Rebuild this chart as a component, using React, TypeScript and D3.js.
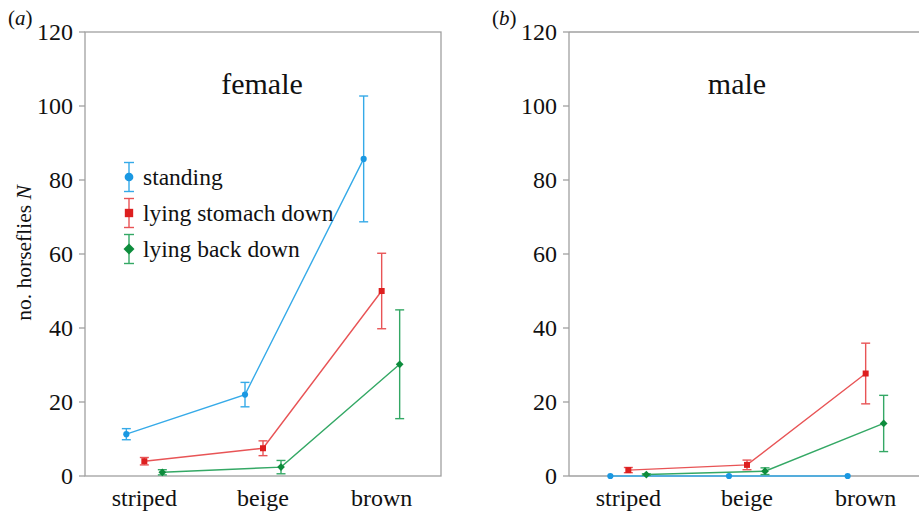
import React from 'react';
import * as d3 from 'd3';

// categories and tick labels
const categories = ['striped', 'beige', 'brown'];
const yTicks = [0, 20, 40, 60, 80, 100, 120];
const seriesNames = ['standing', 'lying stomach down', 'lying back down'];

// female (a): means and error half-widths
const femaleStanding = [11.3, 22, 85.7];
const femaleStandingErr = [1.5, 3.3, 17];
const femaleStomach = [4, 7.5, 50];
const femaleStomachErr = [1, 2, 10.2];
const femaleBack = [1, 2.4, 30.2];
const femaleBackErr = [0.7, 1.8, 14.7];

// male (b)
const maleStanding = [0, 0, 0];
const maleStandingErr = [0, 0, 0];
const maleStomach = [1.6, 3, 27.7];
const maleStomachErr = [0.7, 1.3, 8.2];
const maleBack = [0.4, 1.3, 14.2];
const maleBackErr = [0.2, 0.9, 7.6];

const colors = [
  { marker: '#1a98e2', line: '#35aae8' },
  { marker: '#dd1f1f', line: '#e85456' },
  { marker: '#0d8c3c', line: '#34a865' },
];
const offsets = [-18, 0, 18];
// diamond = square turned 45 degrees
const symbols = [d3.symbolCircle, d3.symbolSquare, d3.symbolSquare];
const rotations = [0, 0, 45];
const symbolSizes = [30, 36, 30];
const legendSizes = [60, 70, 60];

const FONT = '"Liberation Serif", "Times New Roman", Times, "DejaVu Serif", "Noto Serif", serif';

const y = d3.scaleLinear().domain([0, 120]).range([476, 32]);

type PanelProps = {
  left: number;
  label: string;
  title: string;
  titleX: number;
  boxed: boolean;
  means: number[][];
  errs: number[][];
  legend?: boolean;
};

const Panel = ({ left, label, title, titleX, boxed, means, errs, legend }: PanelProps) => {
  const right = left + 356;
  const x = d3.scaleBand().domain(categories).range([left, right]).padding(0);
  const cx = (c: string) => (x(c) as number) + x.bandwidth() / 2;
  const line = d3.line<[number, number]>().x(d => d[0]).y(d => d[1]);
  const axisColor = '#a0a0a0';

  return (
    <g>
      {boxed ? (
        <rect x={left} y={y(120)} width={right - left} height={y(0) - y(120)} fill="none" stroke={axisColor} strokeWidth={1.3} />
      ) : (
        <g stroke={axisColor} strokeWidth={1.3}>
          <line x1={left} x2={right} y1={y(120)} y2={y(120)} />
          <line x1={left} x2={left} y1={y(120)} y2={y(0)} />
          <line x1={left} x2={right} y1={y(0)} y2={y(0)} />
        </g>
      )}
      {yTicks.map(t => (
        <g key={t}>
          <line x1={left - 6} x2={left} y1={y(t)} y2={y(t)} stroke={axisColor} strokeWidth={1.3} />
          <text x={left - 12} y={y(t)} dy="0.35em" textAnchor="end" fontSize={24} style={{ fontFamily: FONT }} fill="#111">{t}</text>
        </g>
      ))}
      {categories.map(c => (
        <text key={c} x={cx(c)} y={506} textAnchor="middle" fontSize={24} style={{ fontFamily: FONT }} fill="#111">{c}</text>
      ))}
      <text x={left - 77} y={25} fontSize={21} style={{ fontFamily: FONT }} fill="#111">
        (<tspan fontStyle="italic">{label}</tspan>)
      </text>
      <text x={titleX} y={94} textAnchor="middle" fontSize={30} style={{ fontFamily: FONT }} fill="#111">{title}</text>

      {means.map((vals, s) => {
        const pts = vals.map((v, i) => [cx(categories[i]) + offsets[s], y(v)] as [number, number]);
        const sym = d3.symbol().type(symbols[s]).size(symbolSizes[s]);
        return (
          <g key={s}>
            <path d={line(pts) as string} fill="none" stroke={colors[s].line} strokeWidth={1.4} />
            {vals.map((v, i) => {
              const e = errs[s][i];
              const px = pts[i][0];
              if (e <= 0) return null;
              return (
                <g key={i} stroke={colors[s].line} strokeWidth={1.4}>
                  <line x1={px} x2={px} y1={y(v + e)} y2={y(v - e)} />
                  <line x1={px - 4.5} x2={px + 4.5} y1={y(v + e)} y2={y(v + e)} />
                  <line x1={px - 4.5} x2={px + 4.5} y1={y(v - e)} y2={y(v - e)} />
                </g>
              );
            })}
            {pts.map((p, i) => (
              <path key={i} d={sym() as string} transform={`translate(${p[0]},${p[1]}) rotate(${rotations[s]})`} fill={colors[s].marker} />
            ))}
          </g>
        );
      })}

      {legend &&
        seriesNames.map((n, s) => {
          const ly = 177 + s * 36;
          const lx = 129;
          const sym = d3.symbol().type(symbols[s]).size(legendSizes[s]);
          return (
            <g key={n}>
              <g stroke={colors[s].line} strokeWidth={1.4}>
                <line x1={lx} x2={lx} y1={ly - 14.5} y2={ly + 14.5} />
                <line x1={lx - 5} x2={lx + 5} y1={ly - 14.5} y2={ly - 14.5} />
                <line x1={lx - 5} x2={lx + 5} y1={ly + 14.5} y2={ly + 14.5} />
              </g>
              <path d={sym() as string} transform={`translate(${lx},${ly}) rotate(${rotations[s]})`} fill={colors[s].marker} />
              <text x={143} y={ly} dy="0.33em" fontSize={23.5} style={{ fontFamily: FONT }} fill="#111">{n}</text>
            </g>
          );
        })}
    </g>
  );
};

const App = () => {
  return (
    <svg width={919} height={514} style={{ position: 'absolute', left: 0, top: 0, background: '#fff' }}>
      <Panel
        left={85}
        label="a"
        title="female"
        titleX={262}
        boxed
        means={[femaleStanding, femaleStomach, femaleBack]}
        errs={[femaleStandingErr, femaleStomachErr, femaleBackErr]}
        legend
      />
      <Panel
        left={569}
        label="b"
        title="male"
        titleX={737}
        boxed={false}
        means={[maleStanding, maleStomach, maleBack]}
        errs={[maleStandingErr, maleStomachErr, maleBackErr]}
      />
      <text x={23} y={253} transform="rotate(-90 23 253)" dy="0.35em" textAnchor="middle" fontSize={21.5} style={{ fontFamily: FONT }} fill="#111">
        no. horseflies <tspan fontStyle="italic">N</tspan>
      </text>
    </svg>
  );
};

export default App;
